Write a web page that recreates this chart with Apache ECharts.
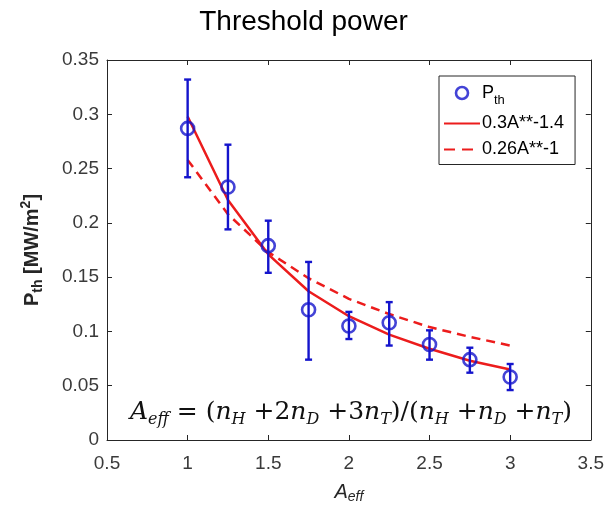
<!DOCTYPE html>
<html><head><meta charset="utf-8">
<script src="https://cdn.jsdelivr.net/npm/echarts@6/dist/echarts.min.js"></script>
<style>html,body{margin:0;padding:0;background:#fff}#c{width:607px;height:510px}</style>
</head><body><div id="c"></div>
<script>
var aEff = [1, 1.25, 1.5, 1.75, 2, 2.25, 2.5, 2.75, 3];
var pth = [0.287, 0.233, 0.179, 0.120, 0.105, 0.108, 0.088, 0.074, 0.058];
var errLow = [0.242, 0.194, 0.154, 0.074, 0.093, 0.087, 0.074, 0.062, 0.046];
var errHigh = [0.332, 0.272, 0.202, 0.164, 0.118, 0.127, 0.101, 0.085, 0.070];
var fitSolid = [0.298, 0.221, 0.171, 0.137, 0.114, 0.097, 0.084, 0.073, 0.065];
var fitDashed = [0.258, 0.208, 0.173, 0.149, 0.130, 0.116, 0.104, 0.095, 0.087];
var xTicks = {min: 0.5, max: 3.5, interval: 0.5};
var yTicks = {min: 0, max: 0.35, interval: 0.05};

var BLUE = '#1414cc', RED = '#ec1c1c', AX = '#262626', TICK = '#3a3a3a';
function zip(a, b) { return a.map(function (v, i) { return [v, b[i]]; }); }

var chart = echarts.init(document.getElementById('c'), null, {renderer: 'canvas'});
var axCommon = {
  axisLine: {show: true, onZero: false, lineStyle: {color: AX, width: 1}},
  axisTick: {show: true, inside: true, length: 5, lineStyle: {color: AX}},
  splitLine: {show: false}
};
chart.setOption({
  animation: false,
  backgroundColor: '#fff',
  textStyle: {fontFamily: 'Liberation Sans, Arial, sans-serif'},
  title: {text: 'Threshold power', left: 'center', top: 3,
    textStyle: {fontSize: 28, fontWeight: 'normal', color: '#000', fontFamily: 'Liberation Sans'}},
  grid: {left: 107, right: 16, top: 60, bottom: 70},
  legend: {
    orient: 'vertical', left: 439, top: 76, width: 136,
    backgroundColor: '#fff', borderColor: AX, borderWidth: 1,
    padding: [8, 11, 6, 4], itemGap: 8, itemWidth: 36, itemHeight: 12,
    data: [
      {name: 'Pth', icon: 'circle', itemStyle: {color: 'rgba(0,0,0,0)', borderColor: BLUE, borderWidth: 2.6}},
      {name: '0.3A**-1.4', itemStyle: {opacity: 0}},
      {name: '0.26A**-1', itemStyle: {opacity: 0}, lineStyle: {type: [11, 7]}}
    ],
    formatter: function (n) { return n === 'Pth' ? '{m|P}{s|th}' : '{m|' + n + '}'; },
    textStyle: {color: '#000', fontSize: 18, padding: [0, 0, 0, -3],
      rich: {m: {fontSize: 18, color: '#000'}, s: {fontSize: 13, color: '#000', padding: [14, 0, 0, 0]}}}
  },
  xAxis: [
    Object.assign({type: 'value', position: 'bottom', min: xTicks.min, max: xTicks.max, interval: xTicks.interval,
      axisLabel: {fontSize: 19, color: TICK, margin: 14},
      name: '{i|A}{s|eff}', nameLocation: 'middle', nameGap: 40,
      nameTextStyle: {rich: {i: {fontSize: 20, fontStyle: 'italic', color: AX}, s: {fontSize: 14, fontStyle: 'italic', color: AX, padding: [10, 0, 0, 0]}}}
    }, axCommon),
    Object.assign({type: 'value', position: 'top', min: xTicks.min, max: xTicks.max, interval: xTicks.interval,
      axisLabel: {show: false}}, axCommon)
  ],
  yAxis: [
    Object.assign({type: 'value', position: 'left', min: yTicks.min, max: yTicks.max, interval: yTicks.interval,
      axisLabel: {fontSize: 19, color: TICK, margin: 8},
      name: '{b|P}{bs|th}{b| [MW/m}{sp|2}{b|]}', nameLocation: 'middle', nameGap: 62, nameRotate: 90,
      nameTextStyle: {rich: {b: {fontSize: 20, fontWeight: 'bold', color: AX},
        bs: {fontSize: 14, fontWeight: 'bold', color: AX, padding: [12, 0, 0, 0]},
        sp: {fontSize: 14, fontWeight: 'bold', color: AX, padding: [0, 0, 12, 0]}}}
    }, axCommon),
    Object.assign({type: 'value', position: 'right', min: yTicks.min, max: yTicks.max, interval: yTicks.interval,
      axisLabel: {show: false}}, axCommon)
  ],
  series: [
    {name: '0.26A**-1', type: 'line', data: zip(aEff, fitDashed), symbol: 'none', z: 2,
      lineStyle: {color: RED, width: 2.5, type: [9, 6]}, itemStyle: {color: RED}},
    {name: '0.3A**-1.4', type: 'line', data: zip(aEff, fitSolid), symbol: 'none', z: 2,
      lineStyle: {color: RED, width: 2.5}, itemStyle: {color: RED}},
    {name: 'err', type: 'custom', z: 3,
      data: aEff.map(function (x, i) { return [x, errLow[i], errHigh[i]]; }),
      renderItem: function (params, api) {
        var lo = api.coord([api.value(0), api.value(1)]);
        var hi = api.coord([api.value(0), api.value(2)]);
        var w = 3.5;
        var st = {stroke: BLUE, lineWidth: 2.4};
        return {type: 'group', children: [
          {type: 'line', shape: {x1: lo[0], y1: lo[1], x2: hi[0], y2: hi[1]}, style: st},
          {type: 'line', shape: {x1: lo[0] - w, y1: lo[1], x2: lo[0] + w, y2: lo[1]}, style: st},
          {type: 'line', shape: {x1: hi[0] - w, y1: hi[1], x2: hi[0] + w, y2: hi[1]}, style: st}
        ]};
      }},
    {name: 'Pth', type: 'scatter', data: zip(aEff, pth), symbol: 'circle', symbolSize: 13, z: 4,
      itemStyle: {color: 'rgba(0,0,0,0)', borderColor: BLUE, borderWidth: 2.6}}
  ],
  graphic: [{
    type: 'text', left: 130, top: 400, z: 10,
    style: {
      text: '{v|A}{s|eff}{n| = (}{v|n}{s|H}{n| +2}{v|n}{s|D}{n| +3}{v|n}{s|T}{n|)/(}{v|n}{s|H}{n| +}{v|n}{s|D}{n| +}{v|n}{s|T}{n|)}',
      rich: {
        v: {fontFamily: 'DejaVu Serif', fontStyle: 'italic', fontSize: 25, fill: '#111'},
        s: {fontFamily: 'DejaVu Serif', fontStyle: 'italic', fontSize: 16, fill: '#111', padding: [14, 0, 0, 0]},
        n: {fontFamily: 'DejaVu Serif', fontSize: 25, fill: '#111'}
      }
    }
  }]
});
</script></body></html>
